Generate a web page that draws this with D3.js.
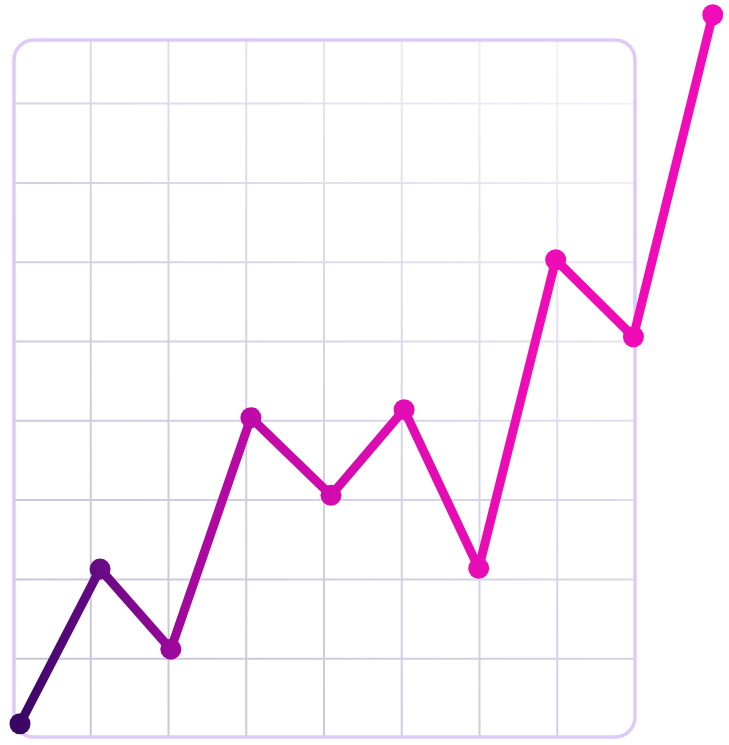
<!DOCTYPE html>
<html>
<head>
<meta charset="utf-8">
<script src="https://cdn.jsdelivr.net/npm/d3@7"></script>
<style>
  html, body { margin: 0; padding: 0; background: #fff; }
  svg { display: block; }
</style>
</head>
<body>
<svg id="chart"></svg>
<script>
// values in grid units (one unit = one grid cell)
const xValues = [0.09, 1.12, 2.03, 3.06, 4.09, 5.03, 5.99, 6.98, 7.98, 9.0];
const yValues = [0.18, 2.13, 1.12, 4.04, 3.06, 4.14, 2.14, 6.03, 5.06, 9.12];
const xGrid = [1, 2, 3, 4, 5, 6, 7];
const yGrid = [1, 2, 3, 4, 5, 6, 7, 8];

const width = 729, height = 745;
const svg = d3.select('#chart')
    .attr('width', width)
    .attr('height', height);

const xscale = d3.scaleLinear().domain([0, 8]).range([13, 635]);
const yscale = d3.scaleLinear().domain([0, 8]).range([738, 103.6]);

const frameTop = 40, frameBottom = 737;
const defs = svg.append('defs');

const gridGrad = defs.append('linearGradient')
    .attr('id', 'gridGrad')
    .attr('gradientUnits', 'userSpaceOnUse')
    .attr('x1', 13).attr('y1', 738)
    .attr('x2', 635).attr('y2', 40);
gridGrad.append('stop').attr('offset', 0).attr('stop-color', '#c4c1d9');
gridGrad.append('stop').attr('offset', 0.5).attr('stop-color', '#d6d3e6');
gridGrad.append('stop').attr('offset', 1).attr('stop-color', '#f6f5fa');

const lineGrad = defs.append('linearGradient')
    .attr('id', 'lineGrad')
    .attr('gradientUnits', 'userSpaceOnUse')
    .attr('x1', xscale(xValues[0])).attr('y1', 0)
    .attr('x2', xscale(xValues[xValues.length - 1])).attr('y2', 0);
lineGrad.append('stop').attr('offset', 0).attr('stop-color', '#3a0666');
lineGrad.append('stop').attr('offset', 0.12).attr('stop-color', '#6a0a86');
lineGrad.append('stop').attr('offset', 0.23).attr('stop-color', '#a0089c');
lineGrad.append('stop').attr('offset', 0.34).attr('stop-color', '#c00aa8');
lineGrad.append('stop').attr('offset', 0.55).attr('stop-color', '#e00cb2');
lineGrad.append('stop').attr('offset', 0.75).attr('stop-color', '#ee0cb6');
lineGrad.append('stop').attr('offset', 1).attr('stop-color', '#f00cb8');

// grid
const grid = svg.append('g')
    .attr('stroke', 'url(#gridGrad)')
    .attr('stroke-width', 2);

grid.selectAll('line.v')
  .data(xGrid)
  .join('line')
    .attr('class', 'v')
    .attr('x1', d => xscale(d)).attr('x2', d => xscale(d))
    .attr('y1', frameTop).attr('y2', frameBottom);

grid.selectAll('line.h')
  .data(yGrid)
  .join('line')
    .attr('class', 'h')
    .attr('x1', xscale(0)).attr('x2', xscale(8))
    .attr('y1', d => yscale(d)).attr('y2', d => yscale(d));

// frame
svg.append('rect')
    .attr('x', xscale(0) + 1)
    .attr('y', frameTop)
    .attr('width', xscale(8) - xscale(0) - 1)
    .attr('height', frameBottom - frameTop)
    .attr('rx', 20)
    .attr('fill', 'none')
    .attr('stroke', '#dfc9f7')
    .attr('stroke-width', 3.5);

// line
const points = xValues.map((x, i) => ({x: x, y: yValues[i]}));

const line = d3.line()
    .x(d => xscale(d.x))
    .y(d => yscale(d.y));

svg.append('path')
    .attr('d', line(points))
    .attr('fill', 'none')
    .attr('stroke', 'url(#lineGrad)')
    .attr('stroke-width', 9)
    .attr('stroke-linejoin', 'round');

svg.selectAll('circle')
  .data(points)
  .join('circle')
    .attr('cx', d => xscale(d.x))
    .attr('cy', d => yscale(d.y))
    .attr('r', 10.5)
    .attr('fill', 'url(#lineGrad)');
</script>
</body>
</html>
